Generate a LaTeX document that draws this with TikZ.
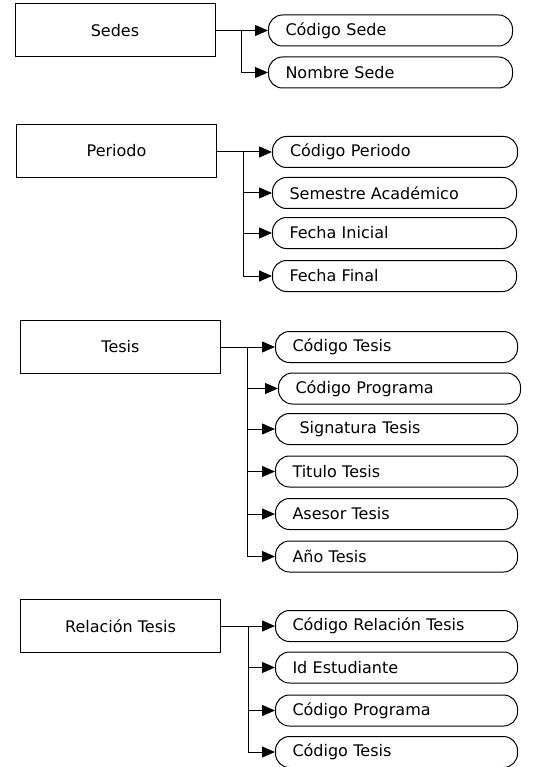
\documentclass[tikz,border=0pt]{standalone}
\usepackage{fontspec}
\setmainfont{DejaVu Sans}
\usepackage{tikz}
\usetikzlibrary{arrows.meta,positioning}

\tikzset{
  entbox/.style={draw, line width=1pt, minimum width=200pt, minimum height=53pt, inner sep=0pt},
  attrbox/.style={draw, line width=1pt, rounded corners=14pt, anchor=west,
    minimum height=31pt, text width=210pt, inner xsep=17pt, inner ysep=0pt, align=left},
  link/.style={line width=1pt, -{Triangle[length=13pt,width=11pt]}}
}

\begin{document}
\begin{tikzpicture}[x=1pt, y=-1pt, font=\fontsize{16}{19}\selectfont]
  \useasboundingbox (0,0) rectangle (539,767);

  % Sedes
  \node[entbox] (sedes) at (115,30.5) {Sedes};
  \node[attrbox] (sedcod) at (268,30.5) {Código Sede};
  \node[attrbox] (sednom) at (268,72.5) {Nombre Sede};
  \coordinate (sedesj) at (241,30.5);
  \draw[line width=1pt] (sedes.east |- sedesj) -- (sedesj);
  \draw[link] (sedesj) -- (sedcod.west);
  \draw[link] (sedesj) |- (sednom.west);

  % Periodo
  \node[entbox] (periodo) at (116.5,151) {Periodo};
  \node[attrbox, minimum width=245pt] (percod) at (272,152) {Código Periodo};
  \node[attrbox] (persem) at (272,193) {Semestre Académico};
  \node[attrbox] (perini) at (272,233) {Fecha Inicial};
  \node[attrbox] (perfin) at (272,276) {Fecha Final};
  \coordinate (periodoj) at (243,152);
  \draw[line width=1pt] (periodo.east |- periodoj) -- (periodoj);
  \draw[link] (periodoj) -- (percod.west);
  \draw[link] (periodoj) |- (persem.west);
  \draw[link] (periodoj) |- (perini.west);
  \draw[link] (periodoj) |- (perfin.west);

  % Tesis
  \node[entbox] (tesis) at (120.5,346.5) {Tesis};
  \node[attrbox, text width=208pt] (tescod) at (275,347) {Código Tesis};
  \node[attrbox, text width=208pt] (tesprog) at (278,388.5) {Código Programa};
  \node[attrbox, text width=208pt] (tessig) at (275,429) {\hspace{7pt}Signatura Tesis};
  \node[attrbox, text width=208pt] (testit) at (275,471.5) {Titulo Tesis};
  \node[attrbox, text width=208pt] (tesase) at (275,514) {Asesor Tesis};
  \node[attrbox, text width=208pt] (tesano) at (275,556.5) {Año Tesis};
  \coordinate (tesisj) at (247,347);
  \draw[line width=1pt] (tesis.east |- tesisj) -- (tesisj);
  \draw[link] (tesisj) -- (tescod.west);
  \draw[link] (tesisj) |- (tesprog.west);
  \draw[link] (tesisj) |- (tessig.west);
  \draw[link] (tesisj) |- (testit.west);
  \draw[link] (tesisj) |- (tesase.west);
  \draw[link] (tesisj) |- (tesano.west);

  % Relacion Tesis
  \node[entbox] (reltesis) at (120.5,626) {Relación Tesis};
  \node[attrbox, text width=208pt] (relcod) at (275,626) {Código Relación Tesis};
  \node[attrbox, text width=208pt] (relest) at (275,667.5) {Id Estudiante};
  \node[attrbox, text width=208pt] (relprog) at (275,710.5) {Código Programa};
  \node[attrbox, text width=208pt] (reltes) at (275,752) {Código Tesis};
  \coordinate (reltesisj) at (248,626);
  \draw[line width=1pt] (reltesis.east |- reltesisj) -- (reltesisj);
  \draw[link] (reltesisj) -- (relcod.west);
  \draw[link] (reltesisj) |- (relest.west);
  \draw[link] (reltesisj) |- (relprog.west);
  \draw[link] (reltesisj) |- (reltes.west);
\end{tikzpicture}
\end{document}
